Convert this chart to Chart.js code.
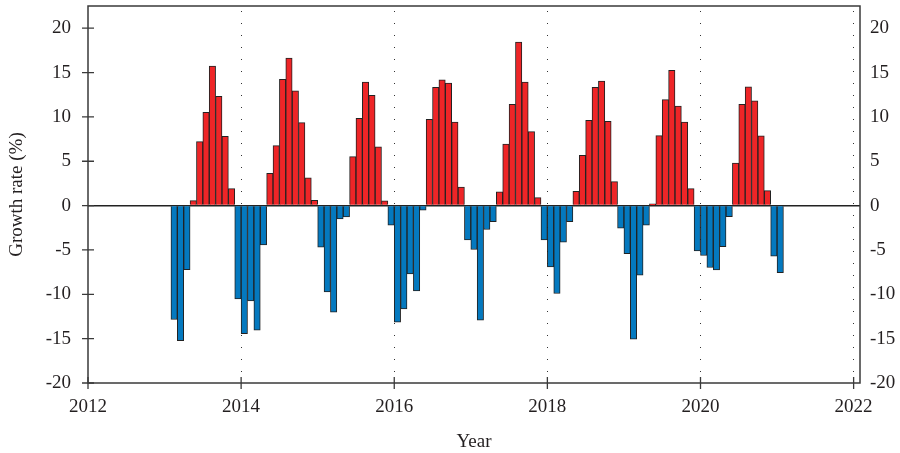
<!DOCTYPE html>
<html>
<head>
<meta charset="utf-8">
<script src="https://cdn.jsdelivr.net/npm/chart.js@4.4.1/dist/chart.umd.min.js"></script>
<style>
  html, body { margin: 0; padding: 0; background: #ffffff; }
  #wrap { width: 900px; height: 453px; position: relative; }
</style>
</head>
<body>
<div id="wrap"><canvas id="c"></canvas></div>
<script>
// ---- data ----
const firstMonth = '2013-02';
const monthCount = 96;
const growthRate = [
  -12.84, -15.24, -7.21, 0.56, 7.21, 10.51, 15.73, 12.31, 7.81, 1.91,
  -10.51, -14.45, -10.74, -14.04, -4.43, 3.64, 6.76, 14.23, 16.63, 12.95, 9.35, 3.12, 0.60,
  -4.69, -9.72, -12.01, -1.50, -1.28, 5.52, 9.83, 13.93, 12.42, 6.61, 0.53,
  -2.21, -13.14, -11.64, -7.70, -9.61, -0.53, 9.72, 13.33, 14.19, 13.81, 9.42, 2.10,
  -3.87, -4.95, -12.91, -2.70, -1.80, 1.54, 6.94, 11.41, 18.43, 13.93, 8.33, 0.90,
  -3.87, -6.91, -9.91, -4.13, -1.80, 1.61, 5.67, 9.61, 13.33, 14.04, 9.50, 2.70,
  -2.55, -5.41, -15.05, -7.85, -2.21, 0.19, 7.88, 11.94, 15.24, 11.22, 9.42, 1.91,
  -5.11, -5.63, -6.98, -7.24, -4.62, -1.24, 4.80, 11.41, 13.40, 11.82, 7.85, 1.69,
  -5.71, -7.55
];
const xTicks = [2012, 2014, 2016, 2018, 2020, 2022];
const yTicks = [-20, -15, -10, -5, 0, 5, 10, 15, 20];
const xTitle = 'Year';
const yTitle = 'Growth rate (%)';

// month labels 'YYYY-MM'
const months = [];
{
  let y = parseInt(firstMonth.slice(0, 4)), m = parseInt(firstMonth.slice(5, 7));
  for (let i = 0; i < monthCount; i++) {
    months.push(y + '-' + String(m).padStart(2, '0'));
    m++; if (m > 12) { m = 1; y++; }
  }
}
const points = months.map((s, i) => ({
  x: parseInt(s.slice(0, 4)) + (parseInt(s.slice(5, 7)) - 0.5) / 12,
  y: growthRate[i]
}));

const RED = '#EE2527';
const BLUE = '#0479BF';
const INK = '#231f20';
const AXIS = '#3a3a3a';
const FONT = "'Liberation Serif', 'DejaVu Serif', serif";

const frame = {
  id: 'frame',
  afterDatasetsDraw(chart) {
    const { ctx, chartArea: a, scales } = chart;
    ctx.save();
    ctx.strokeStyle = AXIS;
    ctx.lineWidth = 1.5;
    ctx.strokeRect(a.left, a.top, a.right - a.left, a.bottom - a.top);
    ctx.lineWidth = 1.3;
    ctx.beginPath();
    xTicks.forEach(v => {
      const px = scales.x.getPixelForValue(v);
      ctx.moveTo(px, a.bottom - 6); ctx.lineTo(px, a.bottom + 6);
    });
    yTicks.forEach(v => {
      const py = scales.y.getPixelForValue(v);
      ctx.moveTo(a.left - 6, py); ctx.lineTo(a.left + 6, py);
    });
    ctx.stroke();
    ctx.restore();
  }
};

const noPad = s => { s.paddingTop = 0; s.paddingBottom = 0; s.paddingLeft = 0; s.paddingRight = 0; };

new Chart(document.getElementById('c'), {
  type: 'bar',
  data: {
    datasets: [{
      data: points,
      backgroundColor: c => (c.raw && c.raw.y >= 0) ? RED : BLUE,
      borderColor: '#222222',
      borderWidth: 1,
      barPercentage: 1,
      categoryPercentage: 1
    }]
  },
  options: {
    responsive: true,
    maintainAspectRatio: false,
    animation: false,
    layout: { padding: { top: 6, right: 0, left: 0, bottom: 0 } },
    plugins: { legend: { display: false }, tooltip: { enabled: false } },
    scales: {
      x: {
        type: 'linear',
        position: 'bottom',
        offset: false,
        min: 2012,
        max: 2022 + 1 / 12,
        afterBuildTicks: s => { s.ticks = xTicks.map(v => ({ value: v })); },
        afterFit: s => { s.height = 70; noPad(s); },
        border: { display: false, dash: [1, 11], dashOffset: -5 },
        grid: {
          offset: false,
          drawTicks: false,
          color: c => (c.tick && c.tick.value > 2012) ? '#333' : 'rgba(0,0,0,0)',
          lineWidth: 1
        },
        ticks: { font: { family: FONT, size: 19 }, color: INK, padding: 13, maxRotation: 0,
                 callback: v => String(v) },
        title: { display: true, text: xTitle, font: { family: FONT, size: 19 }, color: INK,
                 padding: { top: 5, bottom: 0 } }
      },
      y: {
        type: 'linear',
        position: 'left',
        min: -20,
        max: 22.5,
        afterBuildTicks: s => { s.ticks = yTicks.map(v => ({ value: v })); },
        afterFit: s => { s.width = 88; noPad(s); },
        border: { display: false },
        grid: {
          drawTicks: false,
          color: c => (c.tick && c.tick.value === 0) ? '#222' : 'rgba(0,0,0,0)',
          lineWidth: 1.5
        },
        ticks: { font: { family: FONT, size: 19 }, color: INK, padding: 17 },
        title: { display: true, text: yTitle, font: { family: FONT, size: 19 }, color: INK,
                 padding: { top: 6, bottom: 8 } }
      },
      y2: {
        type: 'linear',
        position: 'right',
        min: -20,
        max: 22.5,
        afterBuildTicks: s => { s.ticks = yTicks.map(v => ({ value: v })); },
        afterFit: s => { s.width = 40; noPad(s); },
        border: { display: false },
        grid: { display: false, drawTicks: false },
        ticks: { font: { family: FONT, size: 19 }, color: INK, padding: 10 }
      }
    }
  },
  plugins: [frame]
});
</script>
</body>
</html>
